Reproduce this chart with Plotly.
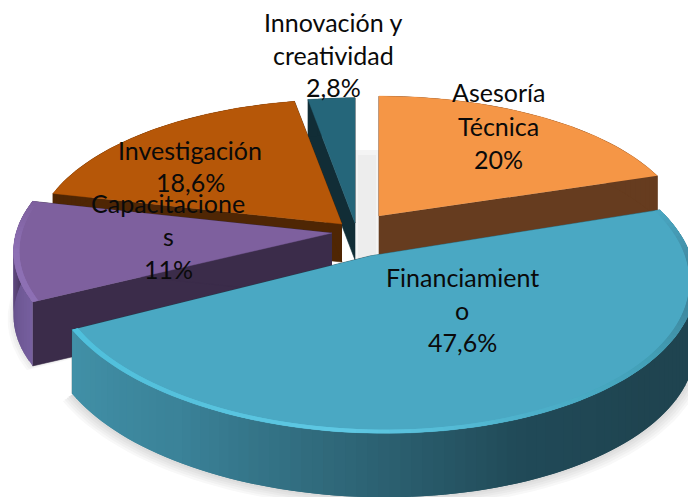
import numpy as np
import plotly.graph_objects as go

# ---- data
categories = ["Asesoría Técnica", "Financiamiento", "Capacitaciones", "Investigación", "Innovación y creatividad"]
values = [20, 47.6, 11, 18.6, 2.8]
wrapped = [["Asesoría", "Técnica"], ["Financiamient", "o"], ["Capacitacione", "s"], ["Investigación"], ["Innovación y", "creatividad"]]

# ---- styling / projection for each slice (screen pixels)
K = 0.126
style = {
    "Asesoría Técnica": dict(ax=379, ay=216, a=304, b=135, s=0, h=42, top="#F59646", wall="#663C1F"),
    "Financiamiento": dict(ax=370, ay=256, a=321, b=155, s=0.085, h=64, top="#4AA8C3", wall="#1F4450"),
    "Capacitaciones": dict(ax=332, ay=233, a=316, b=145, s=0, h=64, top="#7E609E", wall="#3B2C4A"),
    "Investigación": dict(ax=342, ay=224, a=305, b=140, s=0, h=38, top="#B65708", wall="#4F2604"),
    "Innovación y creatividad": dict(ax=355, ay=223, a=302, b=141, s=0, h=37, top="#25667A", wall="#112D36"),
}
label_pos = {
    "Asesoría Técnica": (498, 92), "Financiamiento": (462, 277), "Capacitaciones": (168, 203),
    "Investigación": (190, 150), "Innovación y creatividad": (333, 22),
}
PITCH = {"Asesoría Técnica": 33.5, "Financiamiento": 32.5, "Capacitaciones": 33, "Investigación": 32, "Innovación y creatividad": 32.5}
DRAW_ORDER = ["Innovación y creatividad", "Investigación", "Asesoría Técnica", "Capacitaciones", "Financiamiento"]

# ---- angles from the values
edges = np.cumsum([0] + values) / sum(values) * 2 * np.pi
span = {c: (edges[i], edges[i + 1]) for i, c in enumerate(categories)}


def proj(st, th, r=1.0):
    th = np.asarray(th, float)
    d = 1 + K * r * np.cos(th)
    y = -st["b"] * r * np.cos(th) / d
    x = st["a"] * r * np.sin(th) / d + st["s"] * y
    return st["ax"] + x, st["ay"] + y


def hex2(c):
    return np.array([int(c[i:i + 2], 16) for i in (1, 3, 5)], float)


def mix(stops, t):
    t = min(max(t, 0), 1) * (len(stops) - 1)
    i = min(int(t), len(stops) - 2)
    c = hex2(stops[i]) * (1 - (t - i)) + hex2(stops[i + 1]) * (t - i)
    return "rgb(%d,%d,%d)" % tuple(c)


fig = go.Figure()


def poly(x, y, color, line=0.0):
    fig.add_trace(go.Scatter(x=list(x), y=list(y), mode="lines", fill="toself", fillcolor=color,
                             line=dict(color=color, width=line), hoverinfo="skip", showlegend=False))


# soft shadows beneath the front slices
for cat, n in (("Financiamiento", 5), ("Capacitaciones", 3)):
    st = style[cat]
    th = np.linspace(*span[cat], 80)
    for o in range(n, 0, -1):
        x, y = proj(st, th, 1 + o * 0.006)
        x0, y0 = proj(st, th[[0, -1]], 0.6)
        poly(np.r_[x, x0[::-1]], np.r_[y + st["h"] + o, y0[::-1] + st["h"]], "rgb(%d,%d,%d)" % ((255 - (n - o + 1) * 7,) * 3))

# soft shadow in the gap between the two upper slices
sx = style["Innovación y creatividad"]["ax"]
ex = style["Asesoría Técnica"]["ax"]
fig.add_shape(type="rect", x0=sx, x1=ex, y0=150, y1=262, fillcolor="#F4F4F4", line_width=0, layer="below")
fig.add_shape(type="rect", x0=sx + 3, x1=ex - 3, y0=155, y1=262, fillcolor="#EDEDED", line_width=0, layer="below")

# colour stops along each curved wall / rim, in increasing angle
wall_stops = {
    "Financiamiento": ["#1F4450", "#1F4450", "#1F4450", "#214A58", "#2F6778", "#3B8399", "#4291A8"],
    "Capacitaciones": ["#7760A0", "#6A5590", "#5A4578", "#3B2C4A"],
}
rim_stops = {
    "Financiamiento": ["#4AA8C3", "#3E8096", "#43A0B8", "#4EB2CC", "#5FC9E4", "#56C2DD", "#4FC0DC"],
    "Capacitaciones": ["#8D70B4", "#8D70B4", "#7E609E"],
}

for cat in DRAW_ORDER:
    st = style[cat]
    t0, t1 = span[cat]
    h = st["h"]
    # radial faces
    for e in (t0, t1):
        x, y = proj(st, e)
        poly([st["ax"], x, x, st["ax"]], [st["ay"], y, y + h, st["ay"] + h], st["wall"], 0.6)
    # outer curved wall, shaded in small overlapping steps
    n = max(4, int((t1 - t0) / 0.03))
    th = np.linspace(t0, t1, n + 1)
    for i in range(n):
        c = mix(wall_stops[cat], (i + .5) / n) if cat in wall_stops else st["wall"]
        seg = np.linspace(th[i], th[min(i + 2, n)], 4)
        x, y = proj(st, seg)
        poly(np.r_[x, x[::-1]], np.r_[y, y[::-1] + h], c)
    # top face
    seg = np.linspace(t0, t1, 120)
    x, y = proj(st, seg)
    poly(np.r_[st["ax"], x], np.r_[st["ay"], y], st["top"], 0.4)
    # bevel rim
    if cat in rim_stops:
        for i in range(n):
            seg = np.linspace(th[i], th[min(i + 2, n)], 4)
            xo, yo = proj(st, seg, 1.0)
            xi, yi = proj(st, seg, 0.982)
            poly(np.r_[xo, xi[::-1]], np.r_[yo, yi[::-1]], mix(rim_stops[cat], (i + .5) / n))

# labels
for cat, val, lines in zip(categories, values, wrapped):
    px, py = label_pos[cat]
    pct = f"{val:g}%".replace(".", ",")
    for i, t in enumerate(lines + [pct]):
        fig.add_annotation(x=px, y=py + i * PITCH[cat], text=t, showarrow=False, xanchor="center", yanchor="middle",
                           font=dict(family="Lato", size=25, color="#0A0A0A"))

fig.update_layout(
    width=688, height=497, margin=dict(l=0, r=0, t=0, b=0), paper_bgcolor="white", plot_bgcolor="white",
    xaxis=dict(range=[0, 688], visible=False, fixedrange=True),
    yaxis=dict(range=[497, 0], visible=False, fixedrange=True),
    showlegend=False,
)
fig.write_html("out.html", config=dict(displayModeBar=False),
               post_script="document.body.style.margin='0';document.body.style.overflow='hidden';")
